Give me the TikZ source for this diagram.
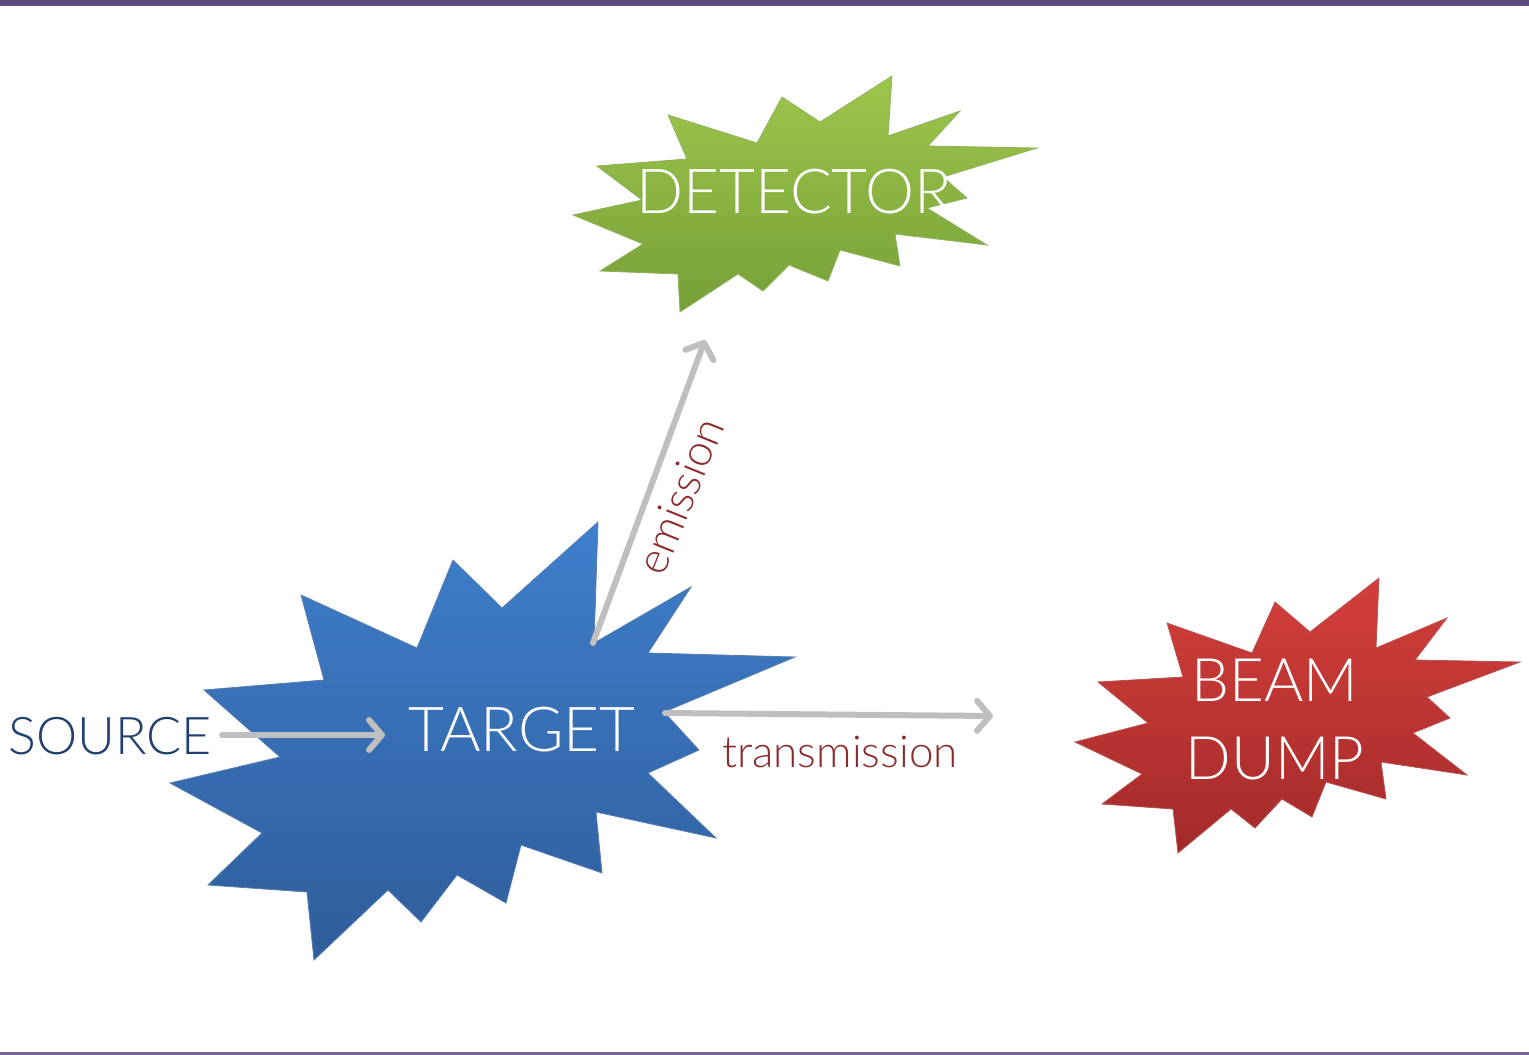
\documentclass[tikz,border=0pt]{standalone}
\usepackage{fontspec}
\setmainfont{Lato Light}
\usetikzlibrary{arrows.meta}
\definecolor{barpurple}{HTML}{5E4A80}
\definecolor{greentop}{HTML}{9EC64C}
\definecolor{greenbot}{HTML}{76A038}
\definecolor{bluetop}{HTML}{3F7FCC}
\definecolor{bluebot}{HTML}{2E5D9B}
\definecolor{redtop}{HTML}{D33F3A}
\definecolor{redbot}{HTML}{A32A2A}
\definecolor{navytxt}{HTML}{1F3F6E}
\definecolor{redtxt}{HTML}{8C2B2B}
\definecolor{arrgray}{HTML}{BFBFBF}
\tikzset{
  burst/.style={line width=0.8pt, line join=miter},
  bigtxt/.style={text=white, font=\fontsize{62}{66}\selectfont, inner sep=0pt, align=center},
  srctxt/.style={text=navytxt, font=\fontsize{52}{56}\selectfont, inner sep=0pt},
  lbl/.style={text=redtxt, font=\fontsize{44}{48}\selectfont, inner sep=0pt},
  arr/.style={draw=arrgray, line width=6pt, line cap=round,
    -{Straight Barb[length=13pt, width=30pt, round, line width=6pt]}},
}
\begin{document}
\begin{tikzpicture}[x=1pt,y=-1pt]
\useasboundingbox (0,0) rectangle (1529,1055);
\fill[white] (0,0) rectangle (1529,1055);
% frame bars
\fill[barpurple] (0,0) rectangle (1529,6);
\fill[barpurple!85] (0,1052) rectangle (1529,1055);

% DETECTOR burst
\path[burst, draw=greenbot!80, top color=greentop, bottom color=greenbot]
  (892,76) -- (888,136) -- (960,111) -- (928,146) -- (1037,148) -- (943,177)
  -- (967,198) -- (927,208) -- (987,245) -- (895,234) -- (900,266) -- (840,250)
  -- (828,281) -- (789,265) -- (763,291) -- (738,274) -- (680,312) -- (678,274)
  -- (600,271) -- (643,244) -- (573,215) -- (642,200) -- (597,166) -- (687,159)
  -- (668,115) -- (757,143) -- (782,97) -- (820,122) -- cycle;

% TARGET burst
\path[burst, draw=bluebot!80, top color=bluetop, bottom color=bluebot]
  (598,522) -- (594,643) -- (691,587) -- (648,653) -- (795,657) -- (664,712)
  -- (699,750) -- (648,773) -- (716,838) -- (596,812) -- (602,873) -- (521,845)
  -- (506,903) -- (457,875) -- (421,922) -- (388,890) -- (314,960) -- (307,892)
  -- (208,885) -- (262,833) -- (170,783) -- (280,757) -- (204,690) -- (324,680)
  -- (301,595) -- (417,648) -- (453,560) -- (502,608) -- cycle;

% BEAM DUMP burst
\path[burst, draw=redbot!80, top color=redtop, bottom color=redbot]
  (1379,578) -- (1376,648) -- (1447,618) -- (1415,660) -- (1520,662) -- (1427,697)
  -- (1450,718) -- (1413,733) -- (1467,775) -- (1381,762) -- (1386,799) -- (1326,782)
  -- (1312,817) -- (1282,799) -- (1255,828) -- (1231,809) -- (1178,853) -- (1173,809)
  -- (1102,804) -- (1142,774) -- (1075,742) -- (1148,723) -- (1098,682) -- (1183,677)
  -- (1167,623) -- (1252,653) -- (1275,602) -- (1310,632) -- cycle;

% texts
\node[bigtxt] (det) at (794,192) {DETECTOR};
\node[bigtxt] (tgt) at (522,730) {TARGET};
\node[bigtxt, font=\fontsize{60}{78}\selectfont] (bd) at (1275,720) {BEAM\\DUMP};
\node[srctxt] (src) at (110,736) {SOURCE};

% connector end points
\coordinate (srcA) at (222,735);
\coordinate (tgtIn) at (385,735);
\coordinate (emA) at (593,643);
\coordinate (emB) at (705,340);
\coordinate (trA) at (665,713);
\coordinate (trB) at (993,716);

\draw[arr] (srcA) -- (tgtIn);
\draw[arr] (emA) -- (emB);
\draw[arr] (trA) -- (trB);

\node[lbl] (tr) at (840,752) {transmission};
\node[lbl, rotate=68] (em) at (680,496) {emission};
\end{tikzpicture}
\end{document}
